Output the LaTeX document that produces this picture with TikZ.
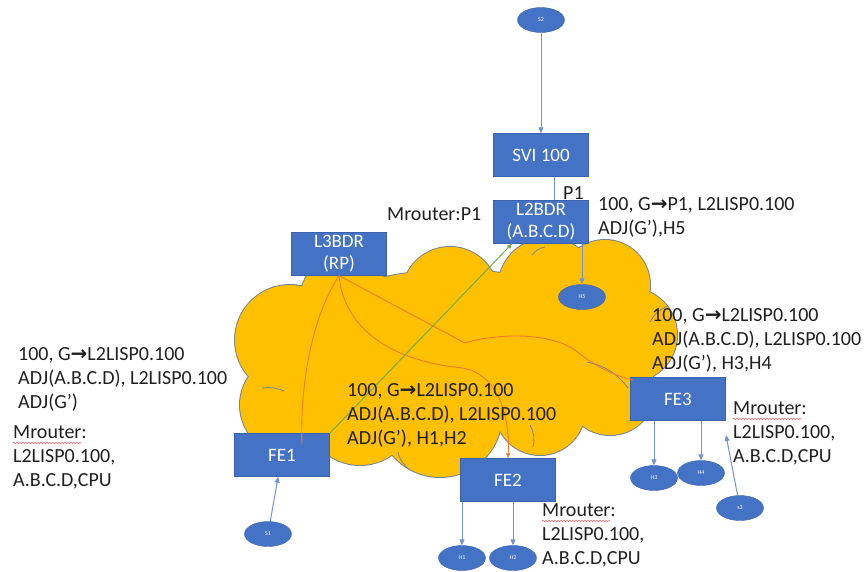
\documentclass[tikz,border=0pt]{standalone}
\usepackage{fontspec}
\setmainfont{Carlito}
\newfontfamily\arrowfont{DejaVu Sans}
\usetikzlibrary{arrows.meta,shapes.geometric,decorations.pathmorphing}
\definecolor{boxblue}{HTML}{4472C4}
\definecolor{boxedge}{HTML}{3A62AE}
\definecolor{linkblue}{HTML}{6F94D6}
\definecolor{cloudfill}{HTML}{FFC000}
\definecolor{cloudedge}{HTML}{7A8494}
\definecolor{rpline}{HTML}{ED7D31}
\definecolor{grline}{HTML}{70AD47}
\definecolor{txt}{HTML}{202020}
\newcommand\garr{{\arrowfont\bfseries →}}

\begin{document}
\begin{tikzpicture}[x=1pt,y=-1pt,
  box/.style={draw=boxedge,fill=boxblue,text=white,minimum width=95pt,minimum height=43pt,
    inner sep=0pt,align=center,font=\fontsize{19}{22}\selectfont},
  host/.style={ellipse,draw=boxedge,fill=boxblue,text=white,minimum width=47pt,minimum height=25pt,
    inner sep=0pt,font=\fontsize{6}{7}\selectfont},
  lbl/.style={anchor=west,align=left,inner sep=0pt,text=txt,font=\fontsize{20}{24}\selectfont},
  link/.style={draw=linkblue,line width=1pt,-{Triangle[length=6pt,width=5pt]}},
  rp/.style={draw=rpline,line width=0.9pt},
  squig/.style={draw=red!60,line width=0.6pt,decorate,decoration={snake,amplitude=0.7pt,segment length=3pt}}]
\useasboundingbox (0,0) rectangle (866,571);
% cloud: outline first, fill on top
\foreach \cx/\cy/\r in {290/340/55,290/405/50,345/300/45,450/295/48,548/288/50,605/285/45,
    630/335/47,610/390/45,540/410/45,440/415/62,360/410/55}
  \draw[cloudedge,line width=2pt] (\cx,\cy) circle[radius=\r];
\draw[cloudedge,line width=2pt] (455,350) ellipse[x radius=170,y radius=80];
\foreach \cx/\cy/\r in {290/340/55,290/405/50,345/300/45,450/295/48,548/288/50,605/285/45,
    630/335/47,610/390/45,540/410/45,440/415/62,360/410/55}
  \fill[cloudfill] (\cx,\cy) circle[radius=\r];
\fill[cloudfill] (455,350) ellipse[x radius=170,y radius=80];
% seams
\draw[cloudedge,line width=0.8pt] (262,388) to[bend left=15] (284,391);
\draw[cloudedge,line width=0.8pt] (587,362) to[bend left=20] (628,388);
\draw[cloudedge,line width=0.8pt] (650,322) to[bend left=20] (668,306);
\draw[cloudedge,line width=0.8pt] (398,452) to[bend right=20] (410,470);
\draw[cloudedge,line width=0.8pt] (530,425) to[bend left=20] (533,447);
\draw[cloudedge,line width=0.8pt] (532,255) to[bend left=20] (545,247);
% nodes
\node[host] (s2) at (541,20) {S2};
\node[box] (svi) at (541,155) {SVI 100};
\node[box] (l2bdr) at (541,222) {L2BDR\\(A.B.C.D)};
\node[box] (l3bdr) at (339,254) {L3BDR\\(RP)};
\node[box] (fe1) at (282,455) {FE1};
\node[box] (fe2) at (508,480) {FE2};
\node[box] (fe3) at (678,399) {FE3};
\node[host] (h5) at (582,297) {H5};
\node[host] (h1) at (462,558) {H1};
\node[host] (h2) at (513,558) {H2};
\node[host] (h3) at (654,478) {H3};
\node[host] (h4) at (701,473) {H4};
\node[host] (s1) at (268,534) {S1};
\node[host] (s3) at (740,508) {s3};
\coordinate (s3end) at (726,435);
% links
\draw[link] (s2) -- (svi);
\draw[draw=linkblue,line width=1pt] ([xshift=13pt]svi.south) -- ([xshift=13pt]l2bdr.north);
\draw[link] (h5.north |- l2bdr.south) -- (h5);
\draw[link] (s1) -- (fe1);
\draw[link] (h1.north |- fe2.south) -- (h1);
\draw[link] (h2.north |- fe2.south) -- (h2);
\draw[link] (h3.north |- fe3.south) -- (h3);
\draw[link] (h4.north |- fe3.south) -- (h4);
\draw[link] (s3) -- (s3end);
\draw[draw=grline,line width=1pt,-{Triangle[length=5pt,width=4pt]}] (fe1.north east) -- ([xshift=-29pt]l2bdr.south);
% rp trees
\draw[rp] (l3bdr.south) .. controls (310,320) and (300,390) .. ([xshift=20pt,yshift=-11pt]fe1.north);
\draw[rp,-{Triangle[length=5pt,width=4pt]}] (l3bdr.south) .. controls (345,335) and (400,362) .. (463,368)
  .. controls (500,375) and (510,420) .. (fe2.north);
\draw[rp] (l3bdr.south) -- (465,343) .. controls (490,335) and (545,330) .. (575,350)
  .. controls (600,370) and (615,375) .. ([xshift=3pt,yshift=-3pt]fe3.north west);
% labels
\node[lbl] (p1) at (563,193) {P1};
\node[lbl] (mrp1) at (387,214) {Mrouter:P1};
\node[lbl] (l2tab) at (598,217) {100, G\garr P1, L2LISP0.100\\ADJ(G’),H5};
\node[lbl] (fe1tab) at (18,379) {100, G\garr L2LISP0.100\\ADJ(A.B.C.D), L2LISP0.100\\ADJ(G’)};
\node[lbl] (fe1mr) at (13,457) {Mrouter:\\L2LISP0.100,\\A.B.C.D,CPU};
\node[lbl] (fe2tab) at (347,415) {100, G\garr L2LISP0.100\\ADJ(A.B.C.D), L2LISP0.100\\ADJ(G’), H1,H2};
\node[lbl] (fe2mr) at (542,535) {Mrouter:\\L2LISP0.100,\\A.B.C.D,CPU};
\node[lbl] (fe3tab) at (652,340) {100, G\garr L2LISP0.100\\ADJ(A.B.C.D), L2LISP0.100\\ADJ(G’), H3,H4};
\node[lbl] (fe3mr) at (733,433) {Mrouter:\\L2LISP0.100,\\A.B.C.D,CPU};
\draw[squig] (13,443) -- (81,443);
\draw[squig] (542,521) -- (610,521);
\draw[squig] (733,419) -- (801,419);
\end{tikzpicture}
\end{document}
